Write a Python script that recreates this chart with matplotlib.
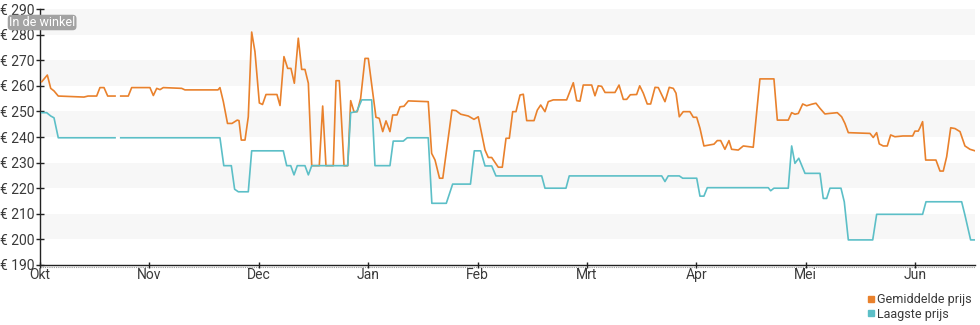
import numpy as np
import matplotlib
matplotlib.use("Agg")
import matplotlib.pyplot as plt
from matplotlib.lines import Line2D

plt.rcParams['font.family'] = ['Roboto', 'DejaVu Sans']

# x positions are expressed in months since 1 Okt (each month has equal width)
month_labels = ["Okt", "Nov", "Dec", "Jan", "Feb", "Mrt", "Apr", "Mei", "Jun"]
x_end = 8.547

avg_x = [0.016, 0.067, 0.098, 0.128, 0.167, 0.402, 0.439, 0.518, 0.548, 0.585, 0.619, 0.686,
         np.nan,
         0.738, 0.807, 0.838, 1.005, 1.036, 1.067, 1.097, 1.127, 1.295, 1.325, 1.627, 1.645,
         1.676, 1.714, 1.755, 1.803, 1.819, 1.840, 1.874, 1.904, 1.935, 1.965, 2.005, 2.034,
         2.066, 2.166, 2.194, 2.230, 2.264, 2.294, 2.325, 2.361, 2.392, 2.422, 2.453, 2.484,
         2.553, 2.584, 2.614, 2.681, 2.706, 2.736, 2.779, 2.813, 2.840, 2.870, 2.900, 2.931,
         2.971, 3.001, 3.071, 3.101, 3.133, 3.163, 3.199, 3.224, 3.263, 3.291, 3.327, 3.367,
         3.549, 3.580, 3.611, 3.652, 3.682, 3.766, 3.803, 3.846, 3.915, 3.967, 4.006, 4.068,
         4.098, 4.129, 4.189, 4.226, 4.260, 4.290, 4.321, 4.351, 4.388, 4.418, 4.449, 4.516,
         4.546, 4.577, 4.616, 4.646, 4.692, 4.814, 4.875, 4.906, 4.936, 4.966, 5.043, 5.073,
         5.103, 5.134, 5.165, 5.256, 5.293, 5.332, 5.363, 5.396, 5.454, 5.482, 5.515, 5.551,
         5.582, 5.622, 5.652, 5.713, 5.752, 5.789, 5.814, 5.844, 5.880, 5.941, 5.972, 6.003,
         6.033, 6.069, 6.124, 6.161, 6.191, 6.222, 6.261, 6.298, 6.322, 6.383, 6.429, 6.520,
         6.581, 6.709, 6.740, 6.840, 6.871, 6.901, 6.932, 6.972, 7.008, 7.054, 7.093, 7.130,
         7.175, 7.215, 7.288, 7.328, 7.358, 7.389, 7.587, 7.617, 7.648, 7.672, 7.708, 7.745,
         7.776, 7.815, 7.888, 7.977, 7.998, 8.028, 8.044, 8.068, 8.096, 8.190, 8.227, 8.257,
         8.288, 8.325, 8.364, 8.410, 8.455, 8.501, 8.547]
avg_price = [261.6, 264.2, 259.0, 258.0, 256.0, 255.6, 256.0, 256.0, 259.3, 259.3, 256.0, 256.0,
             np.nan,
             256.0, 256.0, 259.3, 259.3, 256.2, 259.0, 258.5, 259.3, 259.0, 258.4, 258.4, 259.3,
             253.8, 245.3, 245.3, 246.6, 246.4, 238.8, 238.8, 247.9, 281.0, 273.3, 253.3, 252.7,
             256.6, 256.6, 252.3, 271.4, 266.8, 266.8, 261.0, 278.6, 266.4, 266.4, 261.0, 228.8,
             228.8, 252.1, 228.8, 228.8, 262.0, 262.0, 228.8, 228.8, 254.2, 249.9, 249.9, 255.1,
             270.7, 270.7, 247.7, 247.3, 242.1, 246.3, 242.1, 248.6, 248.6, 251.8, 252.0, 254.1,
             253.8, 233.6, 231.0, 223.9, 223.9, 250.5, 250.3, 248.9, 248.2, 246.9, 247.9, 234.9,
             232.0, 232.0, 228.2, 228.2, 239.5, 239.5, 249.9, 249.9, 256.4, 256.7, 246.4, 246.4,
             250.5, 252.5, 249.9, 253.8, 254.5, 254.5, 261.2, 254.2, 254.0, 260.3, 260.3, 256.1,
             260.0, 259.8, 257.4, 257.4, 260.3, 254.7, 254.7, 256.5, 256.6, 260.0, 257.1, 252.9,
             252.9, 259.4, 259.3, 253.8, 259.4, 259.0, 257.1, 247.9, 249.9, 249.9, 247.7, 247.7,
             243.4, 236.5, 236.9, 237.2, 238.6, 238.6, 235.2, 238.6, 235.2, 234.9, 236.5, 236.0,
             262.7, 262.7, 246.6, 246.6, 249.5, 248.9, 249.2, 252.9, 252.2, 252.8, 253.2, 251.2,
             249.0, 249.2, 249.5, 247.9, 245.3, 241.7, 241.4, 239.8, 241.7, 237.3, 236.5, 236.5,
             240.8, 240.1, 240.4, 240.4, 242.3, 242.3, 243.6, 246.0, 231.0, 231.0, 226.7, 226.7,
             232.3, 243.6, 243.3, 242.1, 236.5, 235.2, 234.6]

low_x = [0.016, 0.061, 0.098, 0.128, 0.167, 0.686,
         np.nan,
         0.738, 1.645, 1.680, 1.749, 1.779, 1.813, 1.904, 1.935, 2.224, 2.255, 2.292, 2.322,
         2.352, 2.422, 2.453, 2.484, 2.813, 2.840, 2.895, 2.941, 3.032, 3.062, 3.199, 3.229,
         3.321, 3.357, 3.549, 3.582, 3.714, 3.772, 3.935, 3.970, 4.028, 4.068, 4.129, 4.168,
         4.586, 4.616, 4.808, 4.838, 5.683, 5.713, 5.743, 5.844, 5.875, 6.003, 6.033, 6.069,
         6.100, 6.657, 6.679, 6.709, 6.840, 6.871, 6.901, 6.936, 6.993, 7.130, 7.160, 7.191,
         7.221, 7.322, 7.352, 7.389, 7.612, 7.648, 8.068, 8.099, 8.425, 8.455, 8.507, 8.547]
low_price = [249.5, 249.5, 248.2, 247.5, 239.7, 239.7,
             np.nan,
             239.7, 239.7, 228.8, 228.8, 219.6, 218.6, 218.6, 234.6, 234.6, 228.8, 228.8, 225.2,
             228.8, 228.8, 225.2, 228.8, 228.8, 249.5, 249.9, 254.5, 254.5, 228.8, 228.8, 238.4,
             238.4, 239.7, 239.7, 214.1, 214.1, 221.6, 221.6, 234.6, 234.6, 228.7, 228.7, 224.8,
             224.8, 220.0, 220.0, 224.8, 224.8, 222.6, 224.8, 224.8, 223.9, 223.9, 216.9, 216.9,
             220.2, 220.2, 219.0, 220.0, 220.0, 236.5, 229.7, 231.7, 225.8, 225.8, 216.0, 216.0,
             220.0, 220.0, 214.7, 199.8, 199.8, 209.8, 209.8, 214.7, 214.7, 209.5, 199.8, 199.8]

y_ticks = list(range(190, 291, 10))
band_starts = [200, 220, 240, 260, 280]

orange = "#e9812c"
teal = "#5cbfc7"
text_col = "#3a3a3a"

fig = plt.figure(figsize=(9.8, 3.25), dpi=100)
ax = fig.add_axes([40 / 980, 1 - 265 / 325, 935 / 980, 256 / 325])

for b in band_starts:
    ax.axhspan(b, b + 10, color="#f7f7f7", lw=0, zorder=0)

ax.plot(avg_x, avg_price, color=orange, lw=1.2, zorder=3, solid_joinstyle="round")
ax.plot(low_x, low_price, color=teal, lw=1.2, zorder=3, solid_joinstyle="round")

ax.set_xlim(0, x_end)
ax.set_ylim(190, 290)
ax.set_yticks(y_ticks)
ax.set_yticklabels([f"€ {v}" for v in y_ticks])
ax.set_xticks(range(len(month_labels)))
ax.set_xticklabels(month_labels)

for s in ["top", "right"]:
    ax.spines[s].set_visible(False)
for s in ["left", "bottom"]:
    ax.spines[s].set_color("#222222")
    ax.spines[s].set_linewidth(1.0)

ax.tick_params(axis="y", direction="inout", length=6, width=1, color="#222222",
               labelsize=10, labelcolor=text_col, pad=1)
ax.tick_params(axis="x", direction="inout", length=5, width=1, color="#222222",
               labelsize=10, labelcolor=text_col, pad=0)

# dotted rule just below the baseline
ax.plot([0, x_end], [189.2, 189.2], color="#999999", lw=0.8, ls=(0, (1, 1)),
        clip_on=False, zorder=1)

fig.text(9 / 980, 1 - 22.5 / 325, "In de winkel", color="white", fontsize=9,
         va="center", ha="left",
         bbox=dict(boxstyle="round,pad=0.1,rounding_size=0.3", fc="#a3a3a3", ec="none"))

handles = [Line2D([], [], marker="s", ls="none", color=orange, markersize=5),
           Line2D([], [], marker="s", ls="none", color=teal, markersize=5)]
fig.legend(handles, ["Gemiddelde prijs", "Laagste prijs"], loc="upper right",
           bbox_to_anchor=(0.999, 1 - 286 / 325), frameon=False, fontsize=9,
           labelcolor=text_col, handletextpad=0.1, labelspacing=0.1,
           handlelength=0.8, borderpad=0.1)

fig.savefig("out.png", dpi=100)
